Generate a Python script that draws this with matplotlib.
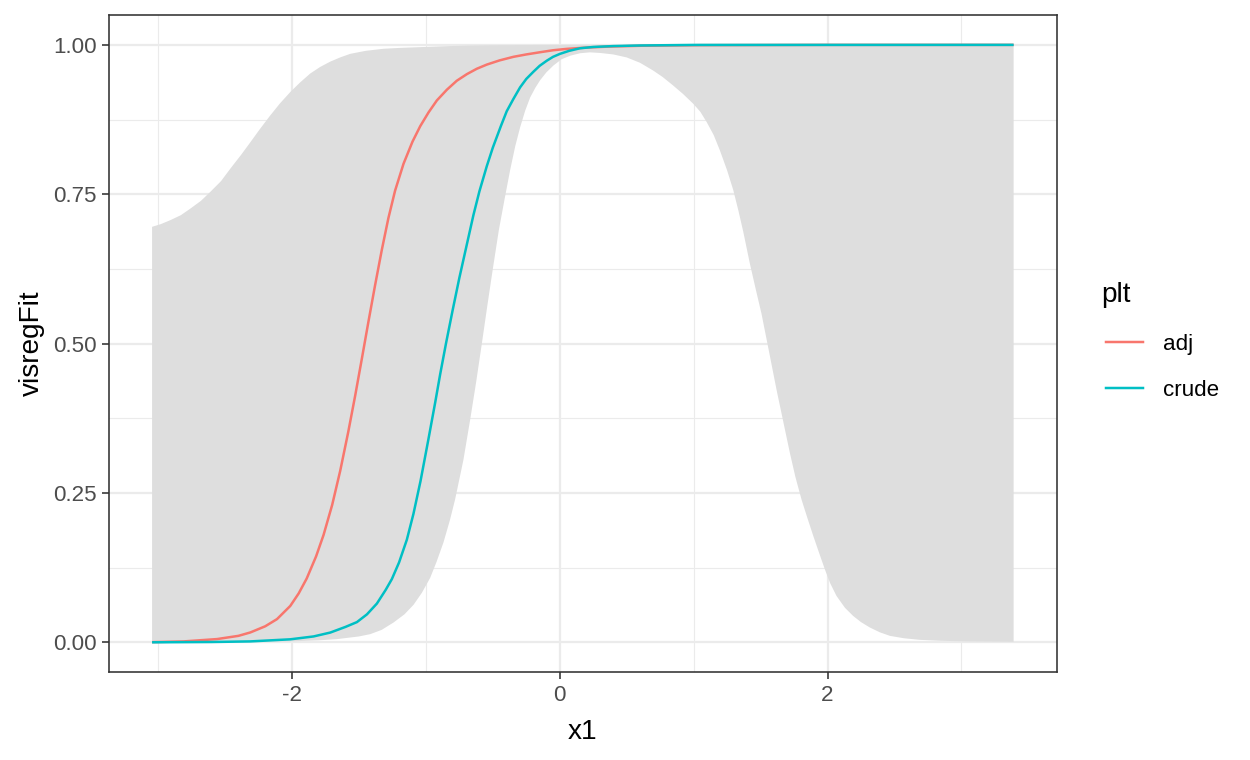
import numpy as np
import matplotlib
matplotlib.use("Agg")
import matplotlib.pyplot as plt
from matplotlib.lines import Line2D

plt.rcParams['font.family'] = ['Liberation Sans', 'DejaVu Sans']

# ---- data ----
adj_x = [-3.045, -2.809, -2.560, -2.400, -2.311, -2.200, -2.112, -2.013, -1.950, -1.890,
         -1.820, -1.764, -1.700, -1.640, -1.580, -1.528, -1.478, -1.428, -1.380, -1.329,
         -1.280, -1.230, -1.167, -1.100, -1.042, -0.980, -0.918, -0.843, -0.769, -0.694,
         -0.620, -0.545, -0.450, -0.346, -0.250, -0.147, -0.050, 0.052, 0.200, 0.351,
         0.600, 1.047, 2.000, 3.390]
adj_y = [0.0005, 0.0017, 0.0056, 0.011, 0.0167, 0.027, 0.039, 0.061, 0.082, 0.107,
         0.144, 0.180, 0.230, 0.287, 0.352, 0.413, 0.475, 0.538, 0.597, 0.657,
         0.710, 0.756, 0.801, 0.838, 0.864, 0.887, 0.907, 0.925, 0.940, 0.951,
         0.960, 0.967, 0.974, 0.980, 0.984, 0.9877, 0.991, 0.9933, 0.9955, 0.997,
         0.9985, 0.9995, 1.0, 1.0]

crude_x = [-3.045, -2.600, -2.311, -2.013, -1.839, -1.714, -1.600, -1.515, -1.440, -1.366,
           -1.300, -1.254, -1.200, -1.142, -1.093, -1.040, -0.981, -0.930, -0.893, -0.850,
           -0.800, -0.750, -0.700, -0.645, -0.600, -0.545, -0.500, -0.440, -0.396, -0.345,
           -0.296, -0.250, -0.197, -0.150, -0.097, -0.050, 0.002, 0.070, 0.151, 0.250,
           0.400, 0.600, 1.000, 3.390]
crude_y = [0.0002, 0.0007, 0.0017, 0.0052, 0.010, 0.0165, 0.026, 0.034, 0.047, 0.065,
           0.088, 0.106, 0.134, 0.172, 0.215, 0.270, 0.340, 0.402, 0.449, 0.500,
           0.556, 0.610, 0.660, 0.715, 0.755, 0.797, 0.828, 0.864, 0.889, 0.910,
           0.929, 0.943, 0.955, 0.965, 0.9735, 0.980, 0.985, 0.990, 0.9943, 0.9965,
           0.998, 0.999, 0.9999, 1.0]

lower_x = [-3.045, -2.500, -2.013, -1.800, -1.665, -1.500, -1.415, -1.330, -1.241, -1.160,
           -1.092, -1.030, -0.968, -0.920, -0.869, -0.820, -0.782, -0.720, -0.669, -0.625,
           -0.582, -0.540, -0.500, -0.455, -0.412, -0.371, -0.333, -0.296, -0.258, -0.221,
           -0.183, -0.146, -0.100, -0.047, 0.014, 0.080, 0.152, 0.225, 0.301, 0.400,
           0.500, 0.600, 0.698, 0.770, 0.847, 0.920, 0.997, 1.050, 1.097, 1.150,
           1.196, 1.250, 1.296, 1.335, 1.370, 1.420, 1.465, 1.507, 1.569, 1.620,
           1.669, 1.720, 1.760, 1.806, 1.850, 1.893, 1.940, 1.980, 2.020, 2.067,
           2.130, 2.191, 2.250, 2.316, 2.390, 2.466, 2.570, 2.690, 2.850, 3.063,
           3.390]
lower_y = [0.0001, 0.0004, 0.0017, 0.0035, 0.0055, 0.010, 0.0139, 0.021, 0.0334, 0.047,
           0.063, 0.083, 0.108, 0.135, 0.167, 0.205, 0.239, 0.305, 0.373, 0.435,
           0.500, 0.565, 0.625, 0.690, 0.742, 0.790, 0.830, 0.862, 0.890, 0.912,
           0.928, 0.941, 0.954, 0.9655, 0.976, 0.982, 0.986, 0.9875, 0.9865, 0.984,
           0.979, 0.970, 0.957, 0.946, 0.932, 0.918, 0.9015, 0.888, 0.871, 0.849,
           0.8235, 0.790, 0.757, 0.722, 0.688, 0.634, 0.590, 0.550, 0.480, 0.422,
           0.370, 0.316, 0.277, 0.239, 0.208, 0.1786, 0.148, 0.1224, 0.099, 0.0778,
           0.058, 0.0444, 0.034, 0.025, 0.017, 0.011, 0.007, 0.0043, 0.0027, 0.0017,
           0.001]

upper_x = [-3.045, -2.980, -2.908, -2.830, -2.759, -2.680, -2.610, -2.530, -2.460, -2.380,
           -2.311, -2.240, -2.162, -2.090, -2.013, -1.940, -1.864, -1.790, -1.714, -1.640,
           -1.565, -1.450, -1.316, -1.190, -1.067, -0.950, -0.819, -0.650, -0.500, 0.000,
           3.390]
upper_y = [0.6955, 0.700, 0.7067, 0.715, 0.726, 0.739, 0.754, 0.772, 0.793, 0.816,
           0.837, 0.859, 0.882, 0.902, 0.921, 0.937, 0.952, 0.963, 0.972, 0.979,
           0.985, 0.990, 0.9935, 0.995, 0.996, 0.997, 0.998, 0.999, 0.9995, 1.0,
           1.0]

series_names = ["adj", "crude"]
series_colors = ["#F8766D", "#00BFC4"]
x_ticks = [-2, 0, 2]
y_ticks = [0.00, 0.25, 0.50, 0.75, 1.00]
y_tick_labels = ["0.00", "0.25", "0.50", "0.75", "1.00"]

# ---- figure ----
W, H = 1250, 760
PX = 0.72  # points per pixel at dpi 100
fig = plt.figure(figsize=(W / 100, H / 100), dpi=100)
L, R, B, T = 109, 1056.7, 672.3, 15
ax = fig.add_axes([L / W, 1 - B / H, (R - L) / W, (B - T) / H])

ax.fill(np.concatenate([lower_x, upper_x[::-1]]),
        np.concatenate([lower_y, upper_y[::-1]]),
        color="#DEDEDE", lw=0, zorder=2)

for xs, ys, c in [(adj_x, adj_y, series_colors[0]), (crude_x, crude_y, series_colors[1])]:
    ax.plot(xs, ys, color=c, lw=2.5 * PX, zorder=3, solid_joinstyle='round',
            solid_capstyle='butt')

xmin = min(lower_x); xmax = max(lower_x)
pad = (xmax - xmin) * 0.05
ax.set_xlim(xmin - pad, xmax + pad)
ax.set_ylim(-0.05, 1.05)

ax.set_xticks(x_ticks)
ax.set_xticklabels([str(v) for v in x_ticks])
ax.set_xticks([-3, -1, 1, 3], minor=True)
ax.set_yticks(y_ticks)
ax.set_yticklabels(y_tick_labels)
ax.set_yticks([0.125, 0.375, 0.625, 0.875], minor=True)

ax.grid(True, which='major', color='#EBEBEB', lw=2.2 * PX, zorder=0)
ax.grid(True, which='minor', color='#EBEBEB', lw=1.1 * PX, zorder=0)
ax.set_axisbelow(True)

ax.tick_params(which='major', length=7 * PX, width=1.6 * PX, color='#333333',
               labelsize=16.1, labelcolor='#4D4D4D', pad=5.6 * PX)
ax.tick_params(which='minor', length=0)
for s in ax.spines.values():
    s.set_color('#333333')
    s.set_linewidth(1.6 * PX)
    s.set_zorder(5)

# axis titles
fig.text(((L + R) / 2) / W, 1 - 739 / H, "x1", fontsize=20.2, ha='center', va='baseline')
fig.text(38.5 / W, 1 - ((T + B) / 2) / H, "visregFit", fontsize=20.2, rotation=90,
         rotation_mode='anchor', ha='center', va='baseline')

# ---- legend ----
fig.text(1101.7 / W, 1 - 302 / H, "plt", fontsize=20.2, ha='left', va='baseline')
for i, (name, c) in enumerate(zip(series_names, series_colors)):
    yk = [341.7, 387.7][i]
    fig.add_artist(Line2D([1106 / W, 1142.7 / W], [1 - yk / H, 1 - yk / H],
                          color=c, lw=2.5 * PX, transform=fig.transFigure))
    fig.text(1162.7 / W, 1 - (yk + 8.5) / H, name, fontsize=16.1, ha='left', va='baseline')

fig.savefig("out.png", dpi=100, facecolor='white')
